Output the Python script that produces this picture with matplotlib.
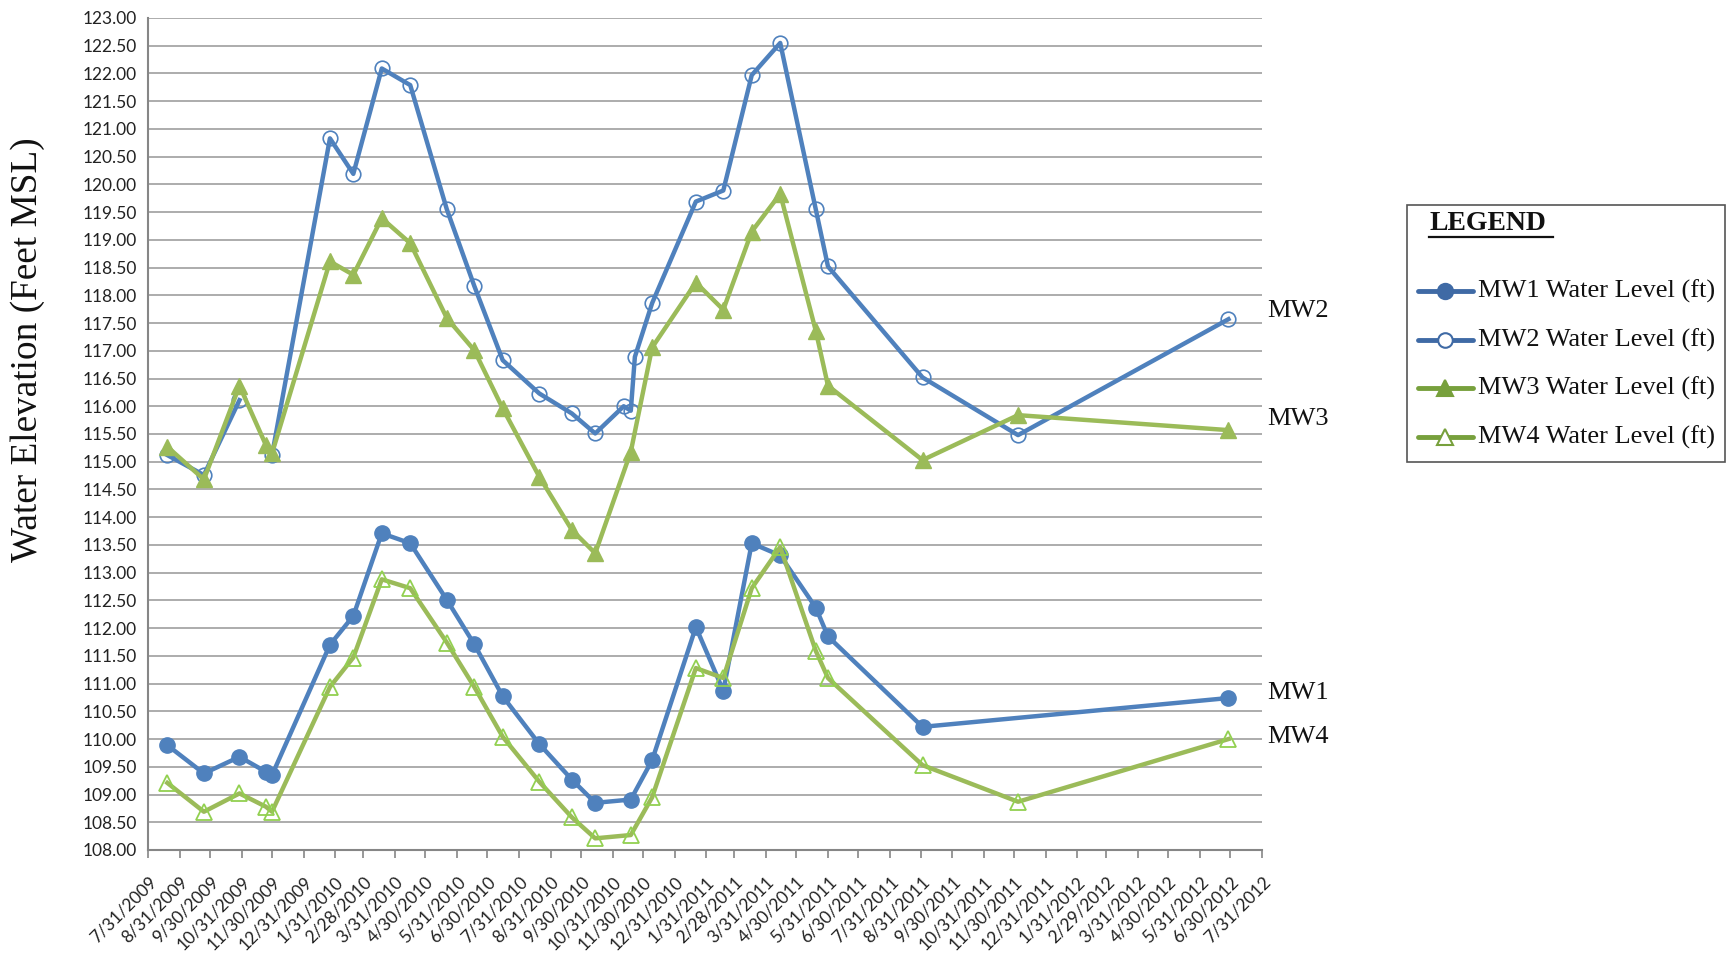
import numpy as np
import pandas as pd
import matplotlib
matplotlib.use('Agg')
import matplotlib.pyplot as plt
from matplotlib.lines import Line2D
from matplotlib.patches import Rectangle

# ------------- data -------------- #
dates = pd.to_datetime([
    '2009-08-19', '2009-09-24', '2009-10-29', '2009-11-24', '2009-11-30',
    '2010-01-26', '2010-02-18', '2010-03-18', '2010-04-15', '2010-05-21',
    '2010-06-17', '2010-07-15', '2010-08-20', '2010-09-21', '2010-10-14',
    '2010-11-11', '2010-11-18', '2010-11-22', '2010-12-09', '2011-01-21',
    '2011-02-17', '2011-03-17', '2011-04-14', '2011-05-19', '2011-05-31',
    '2011-09-01', '2011-12-04', '2012-06-28'])

mw1 = [109.89, 109.38, 109.68, 109.41, 109.35, 111.70, 112.22, 113.71, 113.53, 112.51,
       111.71, 110.77, 109.91, 109.27, 108.85, None, 108.91, None, 109.62, 112.02,
       110.87, 113.53, 113.31, 112.37, 111.85, 110.22, None, 110.74]
mw2 = [115.12, 114.76, 116.11, None, 115.12, 120.83, 120.19, 122.09, 121.79, 119.55,
       118.17, 116.83, 116.23, 115.87, 115.51, 116.00, 115.92, 116.89, 117.86, 119.69,
       119.89, 121.97, 122.55, 119.55, 118.52, 116.52, 115.48, 117.57]
mw3 = [115.27, 114.68, 116.37, 115.30, 115.15, 118.61, 118.37, 119.39, 118.94, 117.59,
       117.01, 115.96, 114.73, 113.77, 113.35, None, 115.18, None, 117.06, 118.23,
       117.74, 119.15, 119.83, 117.36, 116.37, 115.03, 115.84, 115.57]
mw4 = [109.21, 108.69, 109.02, 108.78, 108.69, 110.94, 111.47, 112.88, 112.72, 111.74,
       110.94, 110.04, 109.23, 108.59, 108.21, None, 108.27, None, 108.95, 111.28,
       111.10, 112.72, 113.46, 111.59, 111.10, 109.53, 108.87, 110.00]

series_names = ['MW1 Water Level (ft)', 'MW2 Water Level (ft)',
                'MW3 Water Level (ft)', 'MW4 Water Level (ft)']
end_labels = ['MW1', 'MW2', 'MW3', 'MW4']
end_label_y = [110.83, 117.72, 115.77, 110.04]

ticks = pd.date_range('2009-07-31', periods=37, freq=pd.offsets.MonthEnd())
tick_labels = ['%d/%d/%d' % (d.month, d.day, d.year) for d in ticks]

# ------------- styles -------------- #
blue = '#4F81BD'
green = '#9BBB59'
light_green = '#92D050'
styles = [
    dict(color=blue, marker='o', ms=11, mfc=blue, mec=blue, gap=False),
    dict(color=blue, marker='o', ms=10.5, mfc='none', mec=blue, mew=1.2, gap=True),
    dict(color=green, marker='^', ms=12, mfc=green, mec=green, gap=False),
    dict(color=green, marker='^', ms=12, mfc='none', mec=light_green, mew=1.3, gap=False),
]

W, H = 1727, 958
fig = plt.figure(figsize=(W / 100, H / 100), dpi=100)
fig.patch.set_facecolor('white')


def fx(px):
    return px / W


def fy(py):
    return 1 - py / H


ax = fig.add_axes([fx(148), fy(850), fx(1262) - fx(148), fy(18) - fy(850)])

for vals, st in zip([mw1, mw2, mw3, mw4], styles):
    y = np.array([np.nan if v is None else v for v in vals], dtype=float)
    x = dates
    if not st['gap']:
        keep = ~np.isnan(y)
        x, y = dates[keep], y[keep]
    ax.plot(x, y, color=st['color'], lw=3.2, marker=st['marker'], ms=st['ms'],
            mfc=st['mfc'], mec=st['mec'], mew=st.get('mew', 1), zorder=3)

ax.set_ylim(108, 123)
ax.set_yticks(np.arange(108, 123.01, 0.5))
ax.set_yticklabels(['%.2f' % v for v in np.arange(108, 123.01, 0.5)])
ax.set_xlim(ticks[0], ticks[-1])
ax.set_xticks(ticks)
ax.set_xticklabels(tick_labels, rotation=45, ha='right', rotation_mode='anchor')

ax.grid(axis='y', color='#A6A6A6', lw=1.3, zorder=0)
ax.set_axisbelow(True)
for s in ['top', 'right']:
    ax.spines[s].set_visible(False)
for s in ['left', 'bottom']:
    ax.spines[s].set_color('#868686')
    ax.spines[s].set_linewidth(1.5)
ax.tick_params(axis='y', length=0, pad=8, labelsize=12.5, labelcolor='#222222')
ax.tick_params(axis='x', length=6, width=1.2, color='#868686', pad=11,
               labelsize=12.5, labelcolor='#222222')
for lab in ax.get_xticklabels() + ax.get_yticklabels():
    lab.set_family('Lato')

# y label
fig.text(fx(28), fy(350), 'Water Elevation (Feet MSL)', rotation=90, ha='center', va='center',
         family='Liberation Serif', fontsize=26.8, color='#111111')

# series end labels
for lab, yv in zip(end_labels, end_label_y):
    ax.text(1.0045, yv, lab, transform=ax.get_yaxis_transform(), ha='left', va='center',
            family='Liberation Serif', fontsize=19, color='#111111')

# legend box
fig.add_artist(Rectangle((fx(1407), fy(462)), fx(1725) - fx(1407), fy(205) - fy(462),
                         transform=fig.transFigure, fill=False, ec='#555555', lw=1.2))
fig.text(fx(1429), fy(224), 'LEGEND', ha='left', va='center', family='Liberation Serif',
         fontsize=20, fontweight='bold', color='#111111')
fig.add_artist(Line2D([fx(1429), fx(1553)], [fy(237), fy(237)], transform=fig.transFigure,
                      color='#111111', lw=1.6))

leg_colors = ['#3F6AA5', '#3F6AA5', '#77A03C', '#77A03C']
leg_y = [291, 340, 388, 437]
for name, st, c, py in zip(series_names, styles, leg_colors, leg_y):
    fig.add_artist(Line2D([fx(1418), fx(1473)], [fy(py), fy(py)], transform=fig.transFigure,
                          color=c, lw=3.5, solid_capstyle='round'))
    mfc = c if st['mfc'] != 'none' else 'white'
    fig.add_artist(Line2D([fx(1445)], [fy(py)], transform=fig.transFigure, marker=st['marker'],
                          ms=st['ms'], mfc=mfc, mec=c, mew=1.5, lw=0))
    fig.text(fx(1478), fy(py), name, ha='left', va='center', family='Liberation Serif',
             fontsize=19, color='#111111')

fig.savefig('out.png', dpi=100, facecolor='white')
